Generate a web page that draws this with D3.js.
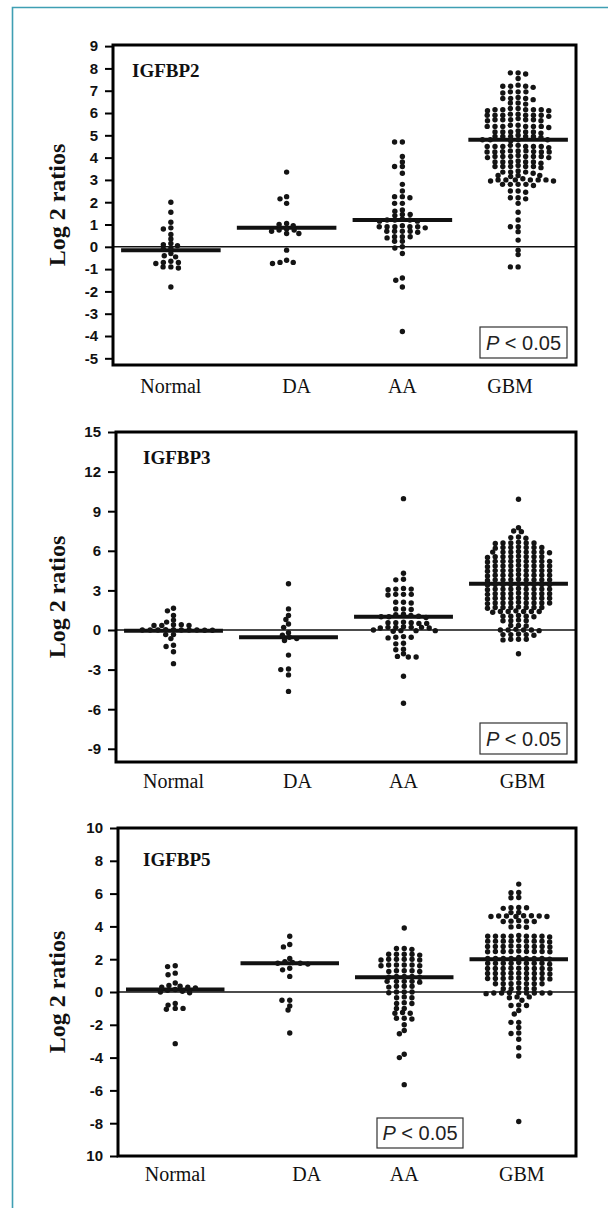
<!DOCTYPE html>
<html><head><meta charset="utf-8">
<script src="https://cdn.jsdelivr.net/npm/d3@7"></script>
<style>body{margin:0;background:#fff}</style>
</head><body>
<svg id="c" width="608" height="1208"></svg>
<script>
// ---------------- DATA ----------------
const categories = ["Normal", "DA", "AA", "GBM"];
const genes = ["IGFBP2", "IGFBP3", "IGFBP5"];
const pLabel = "< 0.05";

// IGFBP2 (log2 ratios)
const normal2 = [2.0, 1.55, 1.1, 0.85, 0.8, 0.55, 0.35, 0.15, 0.1, 0.05, -0.05, -0.1, -0.3, -0.4, -0.45, -0.65, -0.7, -0.7, -0.75, -0.9, -0.95, -0.9, -1.8];
const da2 = [3.35, 2.25, 2.15, 1.95, 1.05, 1.0, 0.95, 0.8, 0.75, 0.75, 0.7, 0.6, 0.6, -0.15, -0.6, -0.7, -0.75, -0.7];
const aa2 = [4.7, 4.7, 4.05, 3.8, 3.6, 3.6, 3.3, 2.8, 2.5, 2.25, 2.25, 2.2, 1.95, 1.95, 1.65, 1.6, 1.45, 1.45, 1.4, 1.25, 1.2, 1.2, 1.15, 1.15, 1.2, 0.9, 0.9, 0.9, 0.85, 0.9, 0.95, 0.9, 0.7, 0.7, 0.7, 0.7, 0.65, 0.45, 0.45, 0.45, 0.4, 0.25, 0.25, -0.05, 0.0, -0.3, -1.4, -1.5, -1.8, -3.8];
const gbm2 = [7.8, 7.8, 7.75, 7.55,
  7.2, 7.25, 7.2, 7.15, 7.2,
  6.95, 6.95, 6.9, 6.95,
  6.65, 6.6, 6.65, 6.7, 6.65,
  6.45, 6.45, 6.4,
  6.15, 6.2, 6.15, 6.1, 6.15, 6.2, 6.15, 6.1, 6.15,
  5.9, 5.9, 5.95, 5.9, 5.85, 5.9, 5.9, 5.95, 5.9,
  5.7, 5.65, 5.7, 5.7, 5.75, 5.7, 5.65, 5.7,
  5.4, 5.4, 5.45, 5.4, 5.35, 5.4, 5.4, 5.45, 5.4,
  5.15, 5.15, 5.2, 5.15, 5.1, 5.15, 5.15,
  4.95, 4.95, 5.0, 4.95, 4.9, 4.95, 4.95,
  4.8, 4.8, 4.75, 4.8, 4.8,
  4.5, 4.5, 4.55, 4.5, 4.45, 4.5, 4.5, 4.55, 4.5,
  4.27, 4.25, 4.3, 4.25, 4.3, 4.25, 4.27, 4.3, 4.25,
  4.05, 4.05, 4.0, 4.05, 4.1, 4.05, 4.0, 4.05, 4.05,
  3.8, 3.8, 3.85, 3.8, 3.75, 3.8, 3.8,
  3.6, 3.6, 3.55, 3.6, 3.65, 3.6, 3.6,
  3.35, 3.35, 3.4, 3.35, 3.3,
  3.2, 3.15, 3.2, 3.2,
  3.0, 3.0, 2.95, 3.0, 3.05, 3.0, 2.95, 3.0, 3.0,
  2.8, 2.8, 2.75, 2.8, 2.8,
  2.5, 2.5, 2.45,
  2.2, 2.2, 2.15,
  1.95, 1.55, 1.2, 0.9, 0.9, 0.68, 0.3, -0.15, -0.35, -0.9, -0.9];
const med2 = [-0.15, 0.85, 1.2, 4.8];

// IGFBP3
const normal3 = [1.65, 1.45, 1.1, 0.75, 0.6, 0.4, 0.35, 0.35, 0.35, 0.4, 0.0, 0.0, 0.02, 0.0, -0.02, 0.0, 0.0, 0.02, 0.0, -0.02, -0.35, -0.35, -0.65, -1.15, -1.25, -1.65, -2.55];
const da3 = [3.5, 1.6, 1.1, 0.8, 0.45, 0.2, -0.2, -0.4, -0.55, -0.65, -0.8, -1.9, -3.0, -2.95, -3.4, -4.65];
const aa3 = [9.95, 4.3, 3.85, 3.8, 3.15, 3.1, 3.05, 3.1, 2.7, 2.7, 2.65, 2.7, 2.1, 2.1, 2.05, 1.6, 1.6, 1.55, 1.2, 1.15, 1.1, 1.05, 1.0, 1.0, 0.95, 0.55, 0.55, 0.5, 0.55, 0.5, 0.6, 0.2, 0.2, 0.15, 0.25, 0.2, 0.15, 0.2, -0.05, -0.05, -0.1, 0.0, -0.05, -0.55, -0.5, -0.6, -0.55, -1.05, -1.0, -1.45, -1.5, -2.05, -2.0, -2.05, -1.8, -3.5, -5.55];
const gbm3 = [9.9,
  7.75, 7.5, 7.45,
  7.0, 7.05, 6.95,
  6.6, 6.6, 6.65, 6.55, 6.6, 6.6,
  6.25, 6.25, 6.2, 6.25, 6.3, 6.25, 6.25,
  5.9, 5.9, 5.95, 5.9, 5.85, 5.9, 5.9, 5.9,
  5.55, 5.55, 5.5, 5.55, 5.6, 5.55, 5.55, 5.55,
  5.2, 5.2, 5.25, 5.2, 5.15, 5.2, 5.2, 5.2, 5.2,
  4.85, 4.85, 4.8, 4.85, 4.9, 4.85, 4.85, 4.85, 4.85,
  4.5, 4.5, 4.55, 4.5, 4.45, 4.5, 4.5, 4.5, 4.5,
  4.15, 4.15, 4.1, 4.15, 4.2, 4.15, 4.15, 4.15, 4.15,
  3.8, 3.8, 3.85, 3.8, 3.75, 3.8, 3.8, 3.8, 3.8,
  3.45, 3.45, 3.4, 3.45, 3.5, 3.45, 3.45, 3.45, 3.45,
  3.1, 3.1, 3.15, 3.1, 3.05, 3.1, 3.1, 3.1, 3.1,
  2.75, 2.75, 2.7, 2.75, 2.8, 2.75, 2.75, 2.75, 2.75,
  2.4, 2.4, 2.45, 2.4, 2.35, 2.4, 2.4, 2.4, 2.4,
  2.05, 2.05, 2.0, 2.05, 2.1, 2.05, 2.05, 2.05, 2.05,
  1.7, 1.7, 1.75, 1.7, 1.65, 1.7, 1.7, 1.7,
  1.4, 1.4, 1.35, 1.4, 1.45, 1.4, 1.4,
  1.05, 1.05, 1.0, 1.05, 1.1,
  0.7, 0.7, 0.75, 0.7,
  0.35, 0.35, 0.3,
  0.0, 0.0, -0.05, 0.0, 0.05, 0.0,
  -0.35, -0.35, -0.4, -0.35, -0.3,
  -0.7, -0.7, -0.75, -0.7,
  -1.8];
const med3 = [-0.05, -0.55, 1.0, 3.5];

// IGFBP5
const normal5 = [1.6, 1.55, 1.15, 1.05, 0.55, 0.4, 0.35, 0.3, 0.3, 0.25, 0.15, 0.1, 0.05, 0.0, -0.05, -0.7, -0.8, -1.0, -1.05, -1.0, -3.15];
const da5 = [3.4, 2.9, 2.75, 2.05, 1.85, 1.8, 1.75, 1.75, 1.7, 1.45, 1.35, 0.95, -0.5, -0.5, -0.85, -1.1, -2.5];
const aa5 = [3.9,
  2.65, 2.65, 2.6,
  2.3, 2.3, 2.25, 2.3, 2.3,
  2.0, 1.95, 2.0, 2.0, 1.95, 2.0,
  1.65, 1.65, 1.6, 1.65, 1.6, 1.65,
  1.3, 1.25, 1.3, 1.3, 1.25,
  0.95, 0.9, 0.95, 0.95, 0.9,
  0.65, 0.65, 0.6, 0.65, 0.65,
  0.35, 0.35, 0.3, 0.35,
  0.0, -0.05, 0.0, 0.0,
  -0.35, -0.35, -0.3,
  -0.7, -0.7, -0.65,
  -1.0, -1.0,
  -1.3, -1.3, -1.25,
  -1.6, -1.6, -1.65,
  -2.0, -2.35, -2.55,
  -3.8, -4.0,
  -5.65];
const gbm5 = [6.58,
  6.07, 6.05, 5.76, 5.75,
  5.14, 5.15, 5.1, 5.14,
  4.84, 4.85,
  4.63, 4.6, 4.65, 4.63, 4.6, 4.65, 4.63, 4.6,
  4.32, 4.3, 4.35, 4.32, 4.3,
  3.97, 4.0, 3.95,
  3.4, 3.4, 3.45, 3.4, 3.35, 3.4, 3.4, 3.4, 3.4,
  3.1, 3.1, 3.05, 3.1, 3.15, 3.1, 3.1, 3.1, 3.1,
  2.78, 2.78, 2.8, 2.75, 2.78, 2.78, 2.8, 2.78, 2.78,
  2.47, 2.47, 2.45, 2.5, 2.47, 2.47, 2.45, 2.47, 2.47,
  2.05, 2.05, 2.0, 2.05, 2.1, 2.05, 2.05, 2.05, 2.05,
  1.75, 1.75, 1.7, 1.75, 1.8, 1.75, 1.75, 1.75, 1.75,
  1.44, 1.44, 1.4, 1.45, 1.44, 1.44, 1.45, 1.44, 1.44,
  1.13, 1.13, 1.1, 1.15, 1.13, 1.13, 1.15, 1.13, 1.13,
  0.82, 0.82, 0.8, 0.85, 0.82, 0.82, 0.85, 0.82, 0.82,
  0.51, 0.51, 0.5, 0.55, 0.51, 0.51, 0.5,
  0.2, 0.2, 0.25, 0.2, 0.2,
  -0.06, -0.06, -0.05, -0.1, -0.06, -0.06, -0.05, -0.06, -0.06,
  -0.3, -0.3, -0.35,
  -0.5,
  -0.82, -0.82, -0.8,
  -1.13, -1.34,
  -1.85, -1.85,
  -2.16,
  -2.53, -2.5,
  -2.88, -3.4, -3.9,
  -7.9];
const med5 = [0.15, 1.75, 0.9, 2.0];

const ticks2 = [9, 8, 7, 6, 5, 4, 3, 2, 1, 0, -1, -2, -3, -4, -5];
const tickLabels2 = ["9", "8", "7", "6", "5", "4", "3", "2", "1", "0", "-1", "-2", "-3", "-4", "-5"];
const ticks3 = [15, 12, 9, 6, 3, 0, -3, -6, -9];
const tickLabels3 = ["15", "12", "9", "6", "3", "0", "-3", "-6", "-9"];
const ticks5 = [10, 8, 6, 4, 2, 0, -2, -4, -6, -8, -10];
const tickLabels5 = ["10", "8", "6", "4", "2", "0", "-2", "-4", "-6", "-8", "10"];
const yTitle = "Log 2 ratios";

// ---------------- LAYOUT ----------------
const panels = [
  {gene: genes[0], groups: [normal2, da2, aa2, gbm2], med: med2, ticks: ticks2, tickLabels: tickLabels2,
   domain: [-5.3, 9.05], left: 113, right: 576, top: 45, bottom: 365, titleX: 132, titleY: 77,
   pbox: [480, 327, 87, 31], xLabelY: 393, labelShift: [0, 10, 0, -8]},
  {gene: genes[1], groups: [normal3, da3, aa3, gbm3], med: med3, ticks: ticks3, tickLabels: tickLabels3,
   domain: [-10, 15], left: 116, right: 576, top: 432, bottom: 762, titleX: 143, titleY: 464,
   pbox: [480, 723, 87, 31], xLabelY: 788, labelShift: [0, 9, 0, 4]},
  {gene: genes[2], groups: [normal5, da5, aa5, gbm5], med: med5, ticks: ticks5, tickLabels: tickLabels5,
   domain: [-10, 10], left: 118, right: 576, top: 828, bottom: 1156, titleX: 143, titleY: 866,
   pbox: [377, 1118, 86, 30], xLabelY: 1181, labelShift: [0, 17, 0, 3]}
];

const serif = "'Liberation Serif','Times New Roman',serif";
const sans = "'Liberation Sans',Arial,sans-serif";
const svg = d3.select("#c");
svg.append("rect").attr("width", 608).attr("height", 1208).attr("fill", "#fff");
// outer teal frame
svg.append("path").attr("d", "M12.5,1208 V7.5 H608").attr("fill", "none").attr("stroke", "#3f9fb3").attr("stroke-width", 1.6);

// beeswarm (elliptical collision) layout in pixel space
function dodge(pys, dx, dy) {
  const order = d3.range(pys.length).sort((a, b) => pys[a] - pys[b]);
  const placed = [];
  const xs = new Array(pys.length);
  for (const i of order) {
    const y = pys[i];
    const near = placed.filter(p => Math.abs(p.y - y) < dy);
    const cands = [0];
    for (const p of near) {
      const w = dx * Math.sqrt(1 - ((p.y - y) / dy) ** 2);
      cands.push(p.x - w, p.x + w);
    }
    cands.sort((a, b) => Math.abs(a) - Math.abs(b) || a - b);
    let xv = 0;
    for (const c of cands) {
      const ok = near.every(p => {
        const w = dx * Math.sqrt(1 - ((p.y - y) / dy) ** 2);
        return Math.abs(p.x - c) >= w - 1e-6;
      });
      if (ok) { xv = c; break; }
    }
    placed.push({x: xv, y});
    xs[i] = xv;
  }
  return xs;
}

panels.forEach(P => {
  const g = svg.append("g");
  const x = d3.scaleBand().domain(categories).range([P.left, P.right]).paddingInner(0.14).paddingOuter(0.07);
  const y = d3.scaleLinear().domain(P.domain).range([P.bottom, P.top]);
  const cx = c => x(c) + x.bandwidth() / 2;

  // zero line
  g.append("line").attr("x1", P.left).attr("x2", P.right).attr("y1", y(0)).attr("y2", y(0))
    .attr("stroke", "#111").attr("stroke-width", 1.4);

  // median lines
  g.selectAll("line.med").data(categories).join("line").attr("class", "med")
    .attr("x1", c => x(c)).attr("x2", c => x(c) + x.bandwidth())
    .attr("y1", (c, i) => y(P.med[i])).attr("y2", (c, i) => y(P.med[i]))
    .attr("stroke", "#111").attr("stroke-width", 4);

  // dots
  categories.forEach((c, i) => {
    const vals = P.groups[i];
    const pys = vals.map(v => y(v));
    const xs = dodge(pys, 7.8, 4.2);
    g.append("g").selectAll("circle").data(vals).join("circle")
      .attr("cx", (v, j) => cx(c) + xs[j]).attr("cy", v => y(v)).attr("r", 2.7)
      .attr("fill", "#141414");
  });

  // frame box
  g.append("rect").attr("x", P.left).attr("y", P.top).attr("width", P.right - P.left).attr("height", P.bottom - P.top)
    .attr("fill", "none").attr("stroke", "#000").attr("stroke-width", 3);

  // y axis
  const ya = g.append("g").attr("transform", `translate(${P.left},0)`)
    .call(d3.axisLeft(y).tickValues(P.ticks).tickFormat((d, i) => P.tickLabels[i]).tickSize(8).tickPadding(7));
  ya.select(".domain").remove();
  ya.selectAll(".tick line").attr("stroke", "#000").attr("stroke-width", 2);
  ya.selectAll(".tick text").attr("font-family", sans).attr("font-weight", "bold").attr("font-size", 15).attr("fill", "#111");

  // x labels
  g.selectAll("text.xl").data(categories).join("text").attr("class", "xl")
    .attr("x", (c, i) => cx(c) + P.labelShift[i]).attr("y", P.xLabelY)
    .attr("text-anchor", "middle").attr("font-family", serif).attr("font-size", 20).attr("fill", "#111")
    .text(c => c);

  // title
  g.append("text").attr("x", P.titleX).attr("y", P.titleY).attr("font-family", serif).attr("font-weight", "bold")
    .attr("font-size", 19).attr("fill", "#111").text(P.gene);

  // y title
  g.append("text").attr("transform", `translate(65,${(P.top + P.bottom) / 2}) rotate(-90)`)
    .attr("text-anchor", "middle").attr("font-family", serif).attr("font-weight", "bold").attr("font-size", 24)
    .attr("fill", "#111").text(yTitle);

  // P box
  const [bx, by, bw, bh] = P.pbox;
  g.append("rect").attr("x", bx).attr("y", by).attr("width", bw).attr("height", bh)
    .attr("fill", "#fff").attr("stroke", "#333").attr("stroke-width", 1.2);
  const t = g.append("text").attr("x", bx + bw / 2).attr("y", by + bh / 2 + 7).attr("text-anchor", "middle")
    .attr("font-family", sans).attr("font-size", 20).attr("fill", "#222");
  t.append("tspan").attr("font-style", "italic").text("P");
  t.append("tspan").text(" " + pLabel);
});
</script>
</body></html>
